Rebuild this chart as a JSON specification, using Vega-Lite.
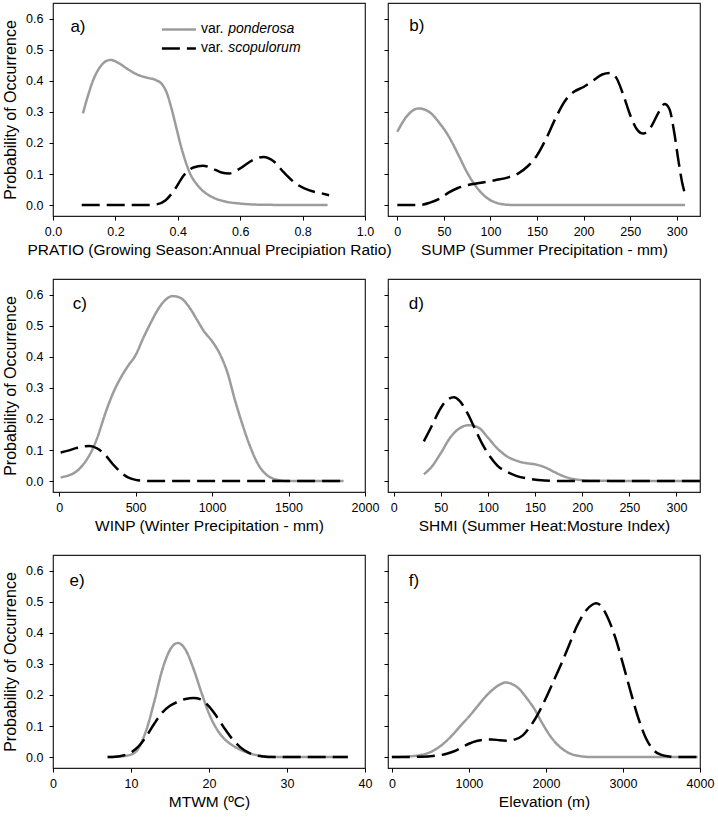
{
  "$schema": "https://vega.github.io/schema/vega-lite/v6.json",
  "padding": {"left": 2, "top": 2, "right": 2, "bottom": 2},
  "config": {
    "font": "Liberation Sans",
    "view": {"stroke": "#222222", "strokeWidth": 1.2},
    "axis": {"grid": false, "domain": false, "tickColor": "#000000", "tickSize": 4, "tickWidth": 1, "tickCount": 20, "labelFontSize": 12.5, "labelColor": "#000000", "labelFlush": false, "labelOverlap": false, "labelPadding": 5, "titleFontSize": 15.5, "titleFontWeight": "normal", "titleColor": "#000000", "titlePadding": 5},
    "axisY": {"labelPadding": 6, "titlePadding": 7, "titleFontSize": 16},
    "text": {"font": "Liberation Sans", "fontWeight": "normal"}
  },
  "data": {"values": [
    {"p":"a","v":"ponderosa","x":0.096,"y":0.295},{"p":"a","v":"ponderosa","x":0.11,"y":0.345},{"p":"a","v":"ponderosa","x":0.13,"y":0.405},{"p":"a","v":"ponderosa","x":0.15,"y":0.443},{"p":"a","v":"ponderosa","x":0.17,"y":0.463},{"p":"a","v":"ponderosa","x":0.185,"y":0.467},{"p":"a","v":"ponderosa","x":0.21,"y":0.457},{"p":"a","v":"ponderosa","x":0.24,"y":0.437},{"p":"a","v":"ponderosa","x":0.27,"y":0.42},{"p":"a","v":"ponderosa","x":0.3,"y":0.41},{"p":"a","v":"ponderosa","x":0.33,"y":0.402},{"p":"a","v":"ponderosa","x":0.35,"y":0.388},{"p":"a","v":"ponderosa","x":0.365,"y":0.36},{"p":"a","v":"ponderosa","x":0.38,"y":0.31},{"p":"a","v":"ponderosa","x":0.395,"y":0.25},{"p":"a","v":"ponderosa","x":0.41,"y":0.19},{"p":"a","v":"ponderosa","x":0.425,"y":0.14},{"p":"a","v":"ponderosa","x":0.44,"y":0.1},{"p":"a","v":"ponderosa","x":0.46,"y":0.068},{"p":"a","v":"ponderosa","x":0.48,"y":0.046},{"p":"a","v":"ponderosa","x":0.51,"y":0.026},{"p":"a","v":"ponderosa","x":0.55,"y":0.012},{"p":"a","v":"ponderosa","x":0.6,"y":0.005},{"p":"a","v":"ponderosa","x":0.68,"y":0.001},{"p":"a","v":"ponderosa","x":0.88,"y":0},
    {"p":"a","v":"scopulorum","x":0.092,"y":0},{"p":"a","v":"scopulorum","x":0.2,"y":0},{"p":"a","v":"scopulorum","x":0.3,"y":0},{"p":"a","v":"scopulorum","x":0.33,"y":0.002},{"p":"a","v":"scopulorum","x":0.36,"y":0.015},{"p":"a","v":"scopulorum","x":0.39,"y":0.05},{"p":"a","v":"scopulorum","x":0.42,"y":0.097},{"p":"a","v":"scopulorum","x":0.45,"y":0.121},{"p":"a","v":"scopulorum","x":0.48,"y":0.127},{"p":"a","v":"scopulorum","x":0.51,"y":0.118},{"p":"a","v":"scopulorum","x":0.54,"y":0.105},{"p":"a","v":"scopulorum","x":0.565,"y":0.102},{"p":"a","v":"scopulorum","x":0.6,"y":0.118},{"p":"a","v":"scopulorum","x":0.64,"y":0.145},{"p":"a","v":"scopulorum","x":0.675,"y":0.155},{"p":"a","v":"scopulorum","x":0.705,"y":0.143},{"p":"a","v":"scopulorum","x":0.74,"y":0.105},{"p":"a","v":"scopulorum","x":0.78,"y":0.068},{"p":"a","v":"scopulorum","x":0.82,"y":0.048},{"p":"a","v":"scopulorum","x":0.86,"y":0.038},{"p":"a","v":"scopulorum","x":0.885,"y":0.032},
    {"p":"b","v":"ponderosa","x":0,"y":0.236},{"p":"b","v":"ponderosa","x":10,"y":0.285},{"p":"b","v":"ponderosa","x":23,"y":0.311},{"p":"b","v":"ponderosa","x":35,"y":0.298},{"p":"b","v":"ponderosa","x":45,"y":0.265},{"p":"b","v":"ponderosa","x":55,"y":0.222},{"p":"b","v":"ponderosa","x":65,"y":0.165},{"p":"b","v":"ponderosa","x":75,"y":0.105},{"p":"b","v":"ponderosa","x":85,"y":0.058},{"p":"b","v":"ponderosa","x":95,"y":0.026},{"p":"b","v":"ponderosa","x":105,"y":0.009},{"p":"b","v":"ponderosa","x":115,"y":0.002},{"p":"b","v":"ponderosa","x":130,"y":0},{"p":"b","v":"ponderosa","x":200,"y":0},{"p":"b","v":"ponderosa","x":309,"y":0},
    {"p":"b","v":"scopulorum","x":0,"y":0},{"p":"b","v":"scopulorum","x":25,"y":0.001},{"p":"b","v":"scopulorum","x":35,"y":0.008},{"p":"b","v":"scopulorum","x":45,"y":0.02},{"p":"b","v":"scopulorum","x":55,"y":0.04},{"p":"b","v":"scopulorum","x":65,"y":0.055},{"p":"b","v":"scopulorum","x":75,"y":0.064},{"p":"b","v":"scopulorum","x":90,"y":0.072},{"p":"b","v":"scopulorum","x":105,"y":0.08},{"p":"b","v":"scopulorum","x":120,"y":0.09},{"p":"b","v":"scopulorum","x":130,"y":0.102},{"p":"b","v":"scopulorum","x":140,"y":0.125},{"p":"b","v":"scopulorum","x":150,"y":0.16},{"p":"b","v":"scopulorum","x":160,"y":0.215},{"p":"b","v":"scopulorum","x":170,"y":0.28},{"p":"b","v":"scopulorum","x":180,"y":0.335},{"p":"b","v":"scopulorum","x":190,"y":0.365},{"p":"b","v":"scopulorum","x":200,"y":0.38},{"p":"b","v":"scopulorum","x":210,"y":0.4},{"p":"b","v":"scopulorum","x":220,"y":0.42},{"p":"b","v":"scopulorum","x":228,"y":0.425},{"p":"b","v":"scopulorum","x":235,"y":0.41},{"p":"b","v":"scopulorum","x":242,"y":0.36},{"p":"b","v":"scopulorum","x":250,"y":0.29},{"p":"b","v":"scopulorum","x":257,"y":0.245},{"p":"b","v":"scopulorum","x":264,"y":0.23},{"p":"b","v":"scopulorum","x":272,"y":0.25},{"p":"b","v":"scopulorum","x":280,"y":0.295},{"p":"b","v":"scopulorum","x":287,"y":0.325},{"p":"b","v":"scopulorum","x":292,"y":0.31},{"p":"b","v":"scopulorum","x":297,"y":0.24},{"p":"b","v":"scopulorum","x":302,"y":0.14},{"p":"b","v":"scopulorum","x":306,"y":0.07},{"p":"b","v":"scopulorum","x":309,"y":0.035},
    {"p":"c","v":"ponderosa","x":10,"y":0.012},{"p":"c","v":"ponderosa","x":60,"y":0.018},{"p":"c","v":"ponderosa","x":110,"y":0.03},{"p":"c","v":"ponderosa","x":160,"y":0.055},{"p":"c","v":"ponderosa","x":200,"y":0.085},{"p":"c","v":"ponderosa","x":250,"y":0.14},{"p":"c","v":"ponderosa","x":300,"y":0.215},{"p":"c","v":"ponderosa","x":350,"y":0.28},{"p":"c","v":"ponderosa","x":400,"y":0.33},{"p":"c","v":"ponderosa","x":450,"y":0.37},{"p":"c","v":"ponderosa","x":500,"y":0.405},{"p":"c","v":"ponderosa","x":550,"y":0.46},{"p":"c","v":"ponderosa","x":600,"y":0.51},{"p":"c","v":"ponderosa","x":650,"y":0.555},{"p":"c","v":"ponderosa","x":700,"y":0.585},{"p":"c","v":"ponderosa","x":740,"y":0.595},{"p":"c","v":"ponderosa","x":790,"y":0.59},{"p":"c","v":"ponderosa","x":850,"y":0.56},{"p":"c","v":"ponderosa","x":900,"y":0.52},{"p":"c","v":"ponderosa","x":950,"y":0.48},{"p":"c","v":"ponderosa","x":1000,"y":0.45},{"p":"c","v":"ponderosa","x":1050,"y":0.41},{"p":"c","v":"ponderosa","x":1100,"y":0.35},{"p":"c","v":"ponderosa","x":1150,"y":0.26},{"p":"c","v":"ponderosa","x":1200,"y":0.18},{"p":"c","v":"ponderosa","x":1250,"y":0.11},{"p":"c","v":"ponderosa","x":1300,"y":0.055},{"p":"c","v":"ponderosa","x":1350,"y":0.023},{"p":"c","v":"ponderosa","x":1400,"y":0.008},{"p":"c","v":"ponderosa","x":1450,"y":0.002},{"p":"c","v":"ponderosa","x":1500,"y":0},{"p":"c","v":"ponderosa","x":1860,"y":0},
    {"p":"c","v":"scopulorum","x":10,"y":0.092},{"p":"c","v":"scopulorum","x":60,"y":0.098},{"p":"c","v":"scopulorum","x":110,"y":0.106},{"p":"c","v":"scopulorum","x":160,"y":0.112},{"p":"c","v":"scopulorum","x":200,"y":0.113},{"p":"c","v":"scopulorum","x":250,"y":0.105},{"p":"c","v":"scopulorum","x":300,"y":0.085},{"p":"c","v":"scopulorum","x":350,"y":0.055},{"p":"c","v":"scopulorum","x":400,"y":0.03},{"p":"c","v":"scopulorum","x":450,"y":0.012},{"p":"c","v":"scopulorum","x":500,"y":0.004},{"p":"c","v":"scopulorum","x":550,"y":0.001},{"p":"c","v":"scopulorum","x":600,"y":0},{"p":"c","v":"scopulorum","x":1860,"y":0},
    {"p":"d","v":"ponderosa","x":32,"y":0.022},{"p":"d","v":"ponderosa","x":40,"y":0.045},{"p":"d","v":"ponderosa","x":50,"y":0.09},{"p":"d","v":"ponderosa","x":60,"y":0.14},{"p":"d","v":"ponderosa","x":70,"y":0.17},{"p":"d","v":"ponderosa","x":80,"y":0.18},{"p":"d","v":"ponderosa","x":90,"y":0.172},{"p":"d","v":"ponderosa","x":100,"y":0.14},{"p":"d","v":"ponderosa","x":110,"y":0.105},{"p":"d","v":"ponderosa","x":120,"y":0.08},{"p":"d","v":"ponderosa","x":130,"y":0.066},{"p":"d","v":"ponderosa","x":140,"y":0.058},{"p":"d","v":"ponderosa","x":150,"y":0.054},{"p":"d","v":"ponderosa","x":160,"y":0.045},{"p":"d","v":"ponderosa","x":170,"y":0.03},{"p":"d","v":"ponderosa","x":180,"y":0.016},{"p":"d","v":"ponderosa","x":190,"y":0.007},{"p":"d","v":"ponderosa","x":200,"y":0.003},{"p":"d","v":"ponderosa","x":215,"y":0.001},{"p":"d","v":"ponderosa","x":325,"y":0},
    {"p":"d","v":"scopulorum","x":32,"y":0.128},{"p":"d","v":"scopulorum","x":40,"y":0.175},{"p":"d","v":"scopulorum","x":50,"y":0.235},{"p":"d","v":"scopulorum","x":57,"y":0.262},{"p":"d","v":"scopulorum","x":64,"y":0.27},{"p":"d","v":"scopulorum","x":70,"y":0.258},{"p":"d","v":"scopulorum","x":78,"y":0.22},{"p":"d","v":"scopulorum","x":86,"y":0.17},{"p":"d","v":"scopulorum","x":94,"y":0.12},{"p":"d","v":"scopulorum","x":102,"y":0.08},{"p":"d","v":"scopulorum","x":110,"y":0.05},{"p":"d","v":"scopulorum","x":120,"y":0.03},{"p":"d","v":"scopulorum","x":130,"y":0.017},{"p":"d","v":"scopulorum","x":145,"y":0.007},{"p":"d","v":"scopulorum","x":160,"y":0.002},{"p":"d","v":"scopulorum","x":180,"y":0},{"p":"d","v":"scopulorum","x":325,"y":0},
    {"p":"e","v":"ponderosa","x":7,"y":0},{"p":"e","v":"ponderosa","x":9,"y":0.003},{"p":"e","v":"ponderosa","x":10,"y":0.008},{"p":"e","v":"ponderosa","x":11,"y":0.03},{"p":"e","v":"ponderosa","x":12,"y":0.09},{"p":"e","v":"ponderosa","x":13,"y":0.18},{"p":"e","v":"ponderosa","x":14,"y":0.28},{"p":"e","v":"ponderosa","x":15,"y":0.345},{"p":"e","v":"ponderosa","x":16,"y":0.367},{"p":"e","v":"ponderosa","x":17,"y":0.345},{"p":"e","v":"ponderosa","x":18,"y":0.285},{"p":"e","v":"ponderosa","x":19,"y":0.21},{"p":"e","v":"ponderosa","x":20,"y":0.14},{"p":"e","v":"ponderosa","x":21,"y":0.09},{"p":"e","v":"ponderosa","x":22,"y":0.058},{"p":"e","v":"ponderosa","x":23,"y":0.038},{"p":"e","v":"ponderosa","x":24,"y":0.024},{"p":"e","v":"ponderosa","x":25,"y":0.014},{"p":"e","v":"ponderosa","x":26,"y":0.007},{"p":"e","v":"ponderosa","x":27,"y":0.003},{"p":"e","v":"ponderosa","x":28,"y":0.001},{"p":"e","v":"ponderosa","x":30,"y":0},{"p":"e","v":"ponderosa","x":37.8,"y":0},
    {"p":"e","v":"scopulorum","x":7,"y":0},{"p":"e","v":"scopulorum","x":8,"y":0.001},{"p":"e","v":"scopulorum","x":9,"y":0.005},{"p":"e","v":"scopulorum","x":10,"y":0.015},{"p":"e","v":"scopulorum","x":11,"y":0.035},{"p":"e","v":"scopulorum","x":12,"y":0.068},{"p":"e","v":"scopulorum","x":13,"y":0.108},{"p":"e","v":"scopulorum","x":14,"y":0.143},{"p":"e","v":"scopulorum","x":15,"y":0.165},{"p":"e","v":"scopulorum","x":16,"y":0.178},{"p":"e","v":"scopulorum","x":17,"y":0.187},{"p":"e","v":"scopulorum","x":18,"y":0.19},{"p":"e","v":"scopulorum","x":19,"y":0.185},{"p":"e","v":"scopulorum","x":20,"y":0.163},{"p":"e","v":"scopulorum","x":21,"y":0.13},{"p":"e","v":"scopulorum","x":22,"y":0.092},{"p":"e","v":"scopulorum","x":23,"y":0.058},{"p":"e","v":"scopulorum","x":24,"y":0.032},{"p":"e","v":"scopulorum","x":25,"y":0.015},{"p":"e","v":"scopulorum","x":26,"y":0.006},{"p":"e","v":"scopulorum","x":27,"y":0.002},{"p":"e","v":"scopulorum","x":28,"y":0},{"p":"e","v":"scopulorum","x":37.8,"y":0},
    {"p":"f","v":"ponderosa","x":0,"y":0},{"p":"f","v":"ponderosa","x":200,"y":0.002},{"p":"f","v":"ponderosa","x":400,"y":0.008},{"p":"f","v":"ponderosa","x":500,"y":0.016},{"p":"f","v":"ponderosa","x":600,"y":0.03},{"p":"f","v":"ponderosa","x":700,"y":0.05},{"p":"f","v":"ponderosa","x":800,"y":0.075},{"p":"f","v":"ponderosa","x":900,"y":0.103},{"p":"f","v":"ponderosa","x":1000,"y":0.13},{"p":"f","v":"ponderosa","x":1100,"y":0.16},{"p":"f","v":"ponderosa","x":1200,"y":0.19},{"p":"f","v":"ponderosa","x":1300,"y":0.215},{"p":"f","v":"ponderosa","x":1400,"y":0.233},{"p":"f","v":"ponderosa","x":1480,"y":0.24},{"p":"f","v":"ponderosa","x":1550,"y":0.236},{"p":"f","v":"ponderosa","x":1650,"y":0.22},{"p":"f","v":"ponderosa","x":1750,"y":0.19},{"p":"f","v":"ponderosa","x":1850,"y":0.155},{"p":"f","v":"ponderosa","x":1950,"y":0.11},{"p":"f","v":"ponderosa","x":2050,"y":0.07},{"p":"f","v":"ponderosa","x":2150,"y":0.04},{"p":"f","v":"ponderosa","x":2250,"y":0.02},{"p":"f","v":"ponderosa","x":2350,"y":0.008},{"p":"f","v":"ponderosa","x":2450,"y":0.003},{"p":"f","v":"ponderosa","x":2600,"y":0},{"p":"f","v":"ponderosa","x":3970,"y":0},
    {"p":"f","v":"scopulorum","x":0,"y":0},{"p":"f","v":"scopulorum","x":300,"y":0.001},{"p":"f","v":"scopulorum","x":500,"y":0.003},{"p":"f","v":"scopulorum","x":700,"y":0.01},{"p":"f","v":"scopulorum","x":800,"y":0.018},{"p":"f","v":"scopulorum","x":900,"y":0.03},{"p":"f","v":"scopulorum","x":1000,"y":0.043},{"p":"f","v":"scopulorum","x":1100,"y":0.052},{"p":"f","v":"scopulorum","x":1200,"y":0.056},{"p":"f","v":"scopulorum","x":1300,"y":0.057},{"p":"f","v":"scopulorum","x":1400,"y":0.054},{"p":"f","v":"scopulorum","x":1500,"y":0.053},{"p":"f","v":"scopulorum","x":1600,"y":0.057},{"p":"f","v":"scopulorum","x":1700,"y":0.07},{"p":"f","v":"scopulorum","x":1800,"y":0.1},{"p":"f","v":"scopulorum","x":1900,"y":0.14},{"p":"f","v":"scopulorum","x":2000,"y":0.19},{"p":"f","v":"scopulorum","x":2100,"y":0.245},{"p":"f","v":"scopulorum","x":2200,"y":0.3},{"p":"f","v":"scopulorum","x":2300,"y":0.36},{"p":"f","v":"scopulorum","x":2400,"y":0.42},{"p":"f","v":"scopulorum","x":2500,"y":0.465},{"p":"f","v":"scopulorum","x":2600,"y":0.49},{"p":"f","v":"scopulorum","x":2650,"y":0.495},{"p":"f","v":"scopulorum","x":2700,"y":0.49},{"p":"f","v":"scopulorum","x":2800,"y":0.45},{"p":"f","v":"scopulorum","x":2900,"y":0.385},{"p":"f","v":"scopulorum","x":3000,"y":0.3},{"p":"f","v":"scopulorum","x":3100,"y":0.21},{"p":"f","v":"scopulorum","x":3200,"y":0.125},{"p":"f","v":"scopulorum","x":3300,"y":0.06},{"p":"f","v":"scopulorum","x":3400,"y":0.022},{"p":"f","v":"scopulorum","x":3500,"y":0.007},{"p":"f","v":"scopulorum","x":3600,"y":0.002},{"p":"f","v":"scopulorum","x":3700,"y":0},{"p":"f","v":"scopulorum","x":3970,"y":0}
  ]},
  "columns": 2,
  "bounds": "flush",
  "spacing": {"row": 63, "column": 23},
  "concat": [
    {
      "width": 312, "height": 213,
      "layer": [
        {"transform": [{"filter": "datum.p === 'a'"}],
         "mark": {"type": "line", "interpolate": "monotone", "strokeWidth": 2.5},
         "encoding": {
           "x": {"field": "x", "type": "quantitative", "scale": {"domain": [0, 1], "nice": false, "zero": false}, "axis": {"values": [0, 0.2, 0.4, 0.6, 0.8, 1.0], "tickCount": 20, "format": ".1f", "title": "PRATIO (Growing Season:Annual Precipiation Ratio)"}},
           "y": {"field": "y", "type": "quantitative", "scale": {"domain": [-0.035, 0.65], "nice": false, "zero": false}, "axis": {"values": [0, 0.1, 0.2, 0.3, 0.4, 0.5, 0.6], "tickCount": 20, "format": ".1f", "title": "Probability of Occurrence"}},
           "color": {"field": "v", "type": "nominal", "scale": {"domain": ["ponderosa", "scopulorum"], "range": ["#9c9c9c", "#000000"]}, "legend": null},
           "strokeDash": {"field": "v", "type": "nominal", "scale": {"domain": ["ponderosa", "scopulorum"], "range": [[1, 0], [18, 7]]}, "legend": null}
         }},
        {"data": {"values": [{}]},
         "mark": {"type": "text", "fontSize": 17, "align": "center", "baseline": "middle", "fill": "#000000"},
         "encoding": {"x": {"datum": 0.08}, "y": {"datum": 0.573}, "text": {"value": "a)"}}},
        {"data": {"values": [{}]},
         "mark": {"type": "rule", "color": "#9c9c9c", "strokeWidth": 2.5},
         "encoding": {"x": {"datum": 0.349}, "x2": {"datum": 0.458}, "y": {"datum": 0.565}}},
        {"data": {"values": [{}]},
         "mark": {"type": "rule", "color": "#000000", "strokeWidth": 2.5, "strokeDash": [18, 7]},
         "encoding": {"x": {"datum": 0.349}, "x2": {"datum": 0.458}, "y": {"datum": 0.504}}},
        {"data": {"values": [{}]},
         "mark": {"type": "text", "fontSize": 14, "align": "left", "baseline": "middle", "fill": "#000000"},
         "encoding": {"x": {"datum": 0.474}, "y": {"datum": 0.565}, "text": {"value": "var."}}},
        {"data": {"values": [{}]},
         "mark": {"type": "text", "fontSize": 14, "align": "left", "baseline": "middle", "fill": "#000000"},
         "encoding": {"x": {"datum": 0.474}, "y": {"datum": 0.504}, "text": {"value": "var."}}},
        {"data": {"values": [{}]},
         "mark": {"type": "text", "fontSize": 14, "fontStyle": "italic", "align": "left", "baseline": "middle", "fill": "#000000"},
         "encoding": {"x": {"datum": 0.5615}, "y": {"datum": 0.565}, "text": {"value": "ponderosa"}}},
        {"data": {"values": [{}]},
         "mark": {"type": "text", "fontSize": 14, "fontStyle": "italic", "align": "left", "baseline": "middle", "fill": "#000000"},
         "encoding": {"x": {"datum": 0.5615}, "y": {"datum": 0.504}, "text": {"value": "scopulorum"}}}
      ]
    },
    {
      "width": 312, "height": 213,
      "layer": [
        {"transform": [{"filter": "datum.p === 'b'"}],
         "mark": {"type": "line", "interpolate": "monotone", "strokeWidth": 2.5},
         "encoding": {
           "x": {"field": "x", "type": "quantitative", "scale": {"domain": [-10, 325], "nice": false, "zero": false}, "axis": {"values": [0, 50, 100, 150, 200, 250, 300], "tickCount": 20, "format": "d", "title": "SUMP (Summer Precipitation - mm)"}},
           "y": {"field": "y", "type": "quantitative", "scale": {"domain": [-0.035, 0.65], "nice": false, "zero": false}, "axis": {"values": [0, 0.1, 0.2, 0.3, 0.4, 0.5, 0.6], "tickCount": 20, "labels": false, "title": null}},
           "color": {"field": "v", "type": "nominal", "scale": {"domain": ["ponderosa", "scopulorum"], "range": ["#9c9c9c", "#000000"]}, "legend": null},
           "strokeDash": {"field": "v", "type": "nominal", "scale": {"domain": ["ponderosa", "scopulorum"], "range": [[1, 0], [18, 7]]}, "legend": null}
         }},
        {"data": {"values": [{}]},
         "mark": {"type": "text", "fontSize": 17, "align": "center", "baseline": "middle", "fill": "#000000"},
         "encoding": {"x": {"datum": 21}, "y": {"datum": 0.576}, "text": {"value": "b)"}}}
      ]
    },
    {
      "width": 312, "height": 213,
      "layer": [
        {"transform": [{"filter": "datum.p === 'c'"}],
         "mark": {"type": "line", "interpolate": "monotone", "strokeWidth": 2.5},
         "encoding": {
           "x": {"field": "x", "type": "quantitative", "scale": {"domain": [-40, 2000], "nice": false, "zero": false}, "axis": {"values": [0, 500, 1000, 1500, 2000], "tickCount": 20, "format": "d", "title": "WINP (Winter Precipitation - mm)"}},
           "y": {"field": "y", "type": "quantitative", "scale": {"domain": [-0.035, 0.65], "nice": false, "zero": false}, "axis": {"values": [0, 0.1, 0.2, 0.3, 0.4, 0.5, 0.6], "tickCount": 20, "format": ".1f", "title": "Probability of Occurrence"}},
           "color": {"field": "v", "type": "nominal", "scale": {"domain": ["ponderosa", "scopulorum"], "range": ["#9c9c9c", "#000000"]}, "legend": null},
           "strokeDash": {"field": "v", "type": "nominal", "scale": {"domain": ["ponderosa", "scopulorum"], "range": [[1, 0], [18, 7]]}, "legend": null}
         }},
        {"data": {"values": [{}]},
         "mark": {"type": "text", "fontSize": 17, "align": "center", "baseline": "middle", "fill": "#000000"},
         "encoding": {"x": {"datum": 136}, "y": {"datum": 0.57}, "text": {"value": "c)"}}}
      ]
    },
    {
      "width": 312, "height": 213,
      "layer": [
        {"transform": [{"filter": "datum.p === 'd'"}],
         "mark": {"type": "line", "interpolate": "monotone", "strokeWidth": 2.5},
         "encoding": {
           "x": {"field": "x", "type": "quantitative", "scale": {"domain": [-6, 325], "nice": false, "zero": false}, "axis": {"values": [0, 50, 100, 150, 200, 250, 300], "tickCount": 20, "format": "d", "title": "SHMI (Summer Heat:Mosture Index)"}},
           "y": {"field": "y", "type": "quantitative", "scale": {"domain": [-0.035, 0.65], "nice": false, "zero": false}, "axis": {"values": [0, 0.1, 0.2, 0.3, 0.4, 0.5, 0.6], "tickCount": 20, "labels": false, "title": null}},
           "color": {"field": "v", "type": "nominal", "scale": {"domain": ["ponderosa", "scopulorum"], "range": ["#9c9c9c", "#000000"]}, "legend": null},
           "strokeDash": {"field": "v", "type": "nominal", "scale": {"domain": ["ponderosa", "scopulorum"], "range": [[1, 0], [18, 7]]}, "legend": null}
         }},
        {"data": {"values": [{}]},
         "mark": {"type": "text", "fontSize": 17, "align": "center", "baseline": "middle", "fill": "#000000"},
         "encoding": {"x": {"datum": 24}, "y": {"datum": 0.57}, "text": {"value": "d)"}}}
      ]
    },
    {
      "width": 312, "height": 213,
      "layer": [
        {"transform": [{"filter": "datum.p === 'e'"}],
         "mark": {"type": "line", "interpolate": "monotone", "strokeWidth": 2.5},
         "encoding": {
           "x": {"field": "x", "type": "quantitative", "scale": {"domain": [0, 40], "nice": false, "zero": false}, "axis": {"values": [0, 10, 20, 30, 40], "tickCount": 20, "format": "d", "title": "MTWM (ºC)"}},
           "y": {"field": "y", "type": "quantitative", "scale": {"domain": [-0.035, 0.65], "nice": false, "zero": false}, "axis": {"values": [0, 0.1, 0.2, 0.3, 0.4, 0.5, 0.6], "tickCount": 20, "format": ".1f", "title": "Probability of Occurrence"}},
           "color": {"field": "v", "type": "nominal", "scale": {"domain": ["ponderosa", "scopulorum"], "range": ["#9c9c9c", "#000000"]}, "legend": null},
           "strokeDash": {"field": "v", "type": "nominal", "scale": {"domain": ["ponderosa", "scopulorum"], "range": [[1, 0], [18, 7]]}, "legend": null}
         }},
        {"data": {"values": [{}]},
         "mark": {"type": "text", "fontSize": 17, "align": "center", "baseline": "middle", "fill": "#000000"},
         "encoding": {"x": {"datum": 3.1}, "y": {"datum": 0.566}, "text": {"value": "e)"}}}
      ]
    },
    {
      "width": 312, "height": 213,
      "layer": [
        {"transform": [{"filter": "datum.p === 'f'"}],
         "mark": {"type": "line", "interpolate": "monotone", "strokeWidth": 2.5},
         "encoding": {
           "x": {"field": "x", "type": "quantitative", "scale": {"domain": [-50, 4000], "nice": false, "zero": false}, "axis": {"values": [0, 1000, 2000, 3000, 4000], "tickCount": 20, "format": "d", "title": "Elevation (m)"}},
           "y": {"field": "y", "type": "quantitative", "scale": {"domain": [-0.035, 0.65], "nice": false, "zero": false}, "axis": {"values": [0, 0.1, 0.2, 0.3, 0.4, 0.5, 0.6], "tickCount": 20, "labels": false, "title": null}},
           "color": {"field": "v", "type": "nominal", "scale": {"domain": ["ponderosa", "scopulorum"], "range": ["#9c9c9c", "#000000"]}, "legend": null},
           "strokeDash": {"field": "v", "type": "nominal", "scale": {"domain": ["ponderosa", "scopulorum"], "range": [[1, 0], [18, 7]]}, "legend": null}
         }},
        {"data": {"values": [{}]},
         "mark": {"type": "text", "fontSize": 17, "align": "center", "baseline": "middle", "fill": "#000000"},
         "encoding": {"x": {"datum": 287}, "y": {"datum": 0.566}, "text": {"value": "f)"}}}
      ]
    }
  ]
}
